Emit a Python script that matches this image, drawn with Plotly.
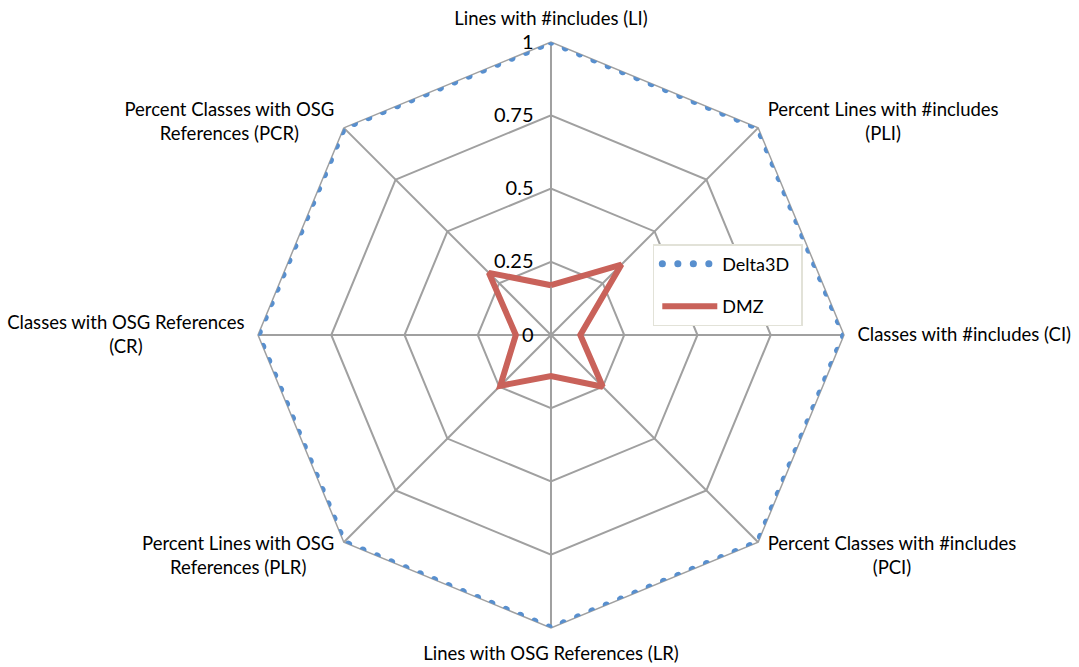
import plotly.graph_objects as go

categories = ["Lines with #includes (LI)", "Percent Lines with #includes<br>(PLI)",
              "Classes with #includes (CI)", "Percent Classes with #includes<br>(PCI)",
              "Lines with OSG References (LR)", "Percent Lines with OSG<br>References (PLR)",
              "Classes with OSG References<br>(CR)", "Percent Classes with OSG<br>References (PCR)"]
delta3d = [1, 1, 1, 1, 1, 1, 1, 1]
dmz = [0.17, 0.34, 0.10, 0.25, 0.14, 0.245, 0.12, 0.30]
radial_ticks = [0, 0.25, 0.5, 0.75, 1]
radial_labels = ["0", "0.25", "0.5", "0.75", "1"]

BLUE = "rgb(88,143,206)"
RED = "#C9625A"
GRID = "#A0A0A0"

fig = go.Figure()
fig.add_trace(go.Scatterpolar(
    r=delta3d + delta3d[:1], theta=categories + categories[:1], mode="lines",
    name="Delta3D", legendgroup="a", line=dict(color=BLUE, width=7, dash="dot")))
fig.add_trace(go.Scatterpolar(
    r=dmz + dmz[:1], theta=categories + categories[:1], mode="lines",
    name="DMZ", legendgroup="b", line=dict(color=RED, width=6)))

fig.update_layout(
    width=1079, height=667,
    margin=dict(l=0, r=0, t=0, b=0),
    paper_bgcolor="white", plot_bgcolor="white",
    font=dict(family="Lato, Open Sans, sans-serif", size=18, color="black"),
    polar=dict(
        domain=dict(x=[0.2391, 0.7822], y=[0.0585, 0.937]),
        gridshape="linear",
        bgcolor="white",
        angularaxis=dict(direction="clockwise", rotation=90, showline=True,
                         linecolor=GRID, linewidth=1.5, gridcolor=GRID, gridwidth=1.5,
                         ticks="outside", ticklen=9, tickcolor="rgba(0,0,0,0)",
                         layer="below traces", tickfont=dict(size=18.5)),
        radialaxis=dict(range=[0, 1], tickvals=radial_ticks, ticktext=radial_labels,
                        angle=90, tickangle=90, side="counterclockwise",
                        showline=False, gridcolor=GRID, gridwidth=1.5,
                        ticks="outside", ticklen=10, tickcolor="rgba(0,0,0,0)",
                        layer="below traces", tickfont=dict(size=20)),
    ),
    legend=dict(x=0.605, y=0.634, xanchor="left", yanchor="top",
                bordercolor="#E2E2D8", borderwidth=1.5, bgcolor="white",
                font=dict(size=18), tracegroupgap=16),
)

post = r"""
document.body.style.margin='0';
var gd = document.getElementById('{plot_id}');
function fixup(){
  var fl = gd._fullLayout;
  var dom = fl.polar.domain;
  var cx = fl.width*(dom.x[0]+dom.x[1])/2, cy = fl.height*(1-(dom.y[0]+dom.y[1])/2);
  gd.querySelectorAll('path.js-line').forEach(function(p){
    var s = (p.style.stroke || p.getAttribute('stroke') || '').replace(/\s/g,'');
    if (s === 'rgb(88,143,206)') {
      p.style.strokeLinecap='round'; p.style.strokeDasharray='0.1px,15.4px';
    }
  });
  gd.querySelectorAll('.polar text').forEach(function(t){
    if (t.dataset.newx && t.getAttribute('x') === t.dataset.newx) return;
    var lines = t.querySelectorAll('tspan.line');
    var r = t.getBoundingClientRect();
    var bx = (r.left+r.right)/2 - cx, by = (r.top+r.bottom)/2 - cy;
    var dx = 0, dy = 0;
    if (lines.length >= 2) {
      var anchor = t.getAttribute('text-anchor') || t.style.textAnchor || 'start';
      var w = t.getBBox().width;
      dx = anchor === 'start' ? w/2 : (anchor === 'end' ? -w/2 : 0);
      t.setAttribute('text-anchor','middle'); t.style.textAnchor='middle';
    }
    if (Math.abs(bx) > 120 && Math.abs(by) > 120) { dy = by > 0 ? -16 : 16; }
    lines.forEach(function(l){
      var lx = parseFloat(l.getAttribute('x'));
      if (!isNaN(lx)) l.setAttribute('x', lx + dx);
      var ly = parseFloat(l.getAttribute('y'));
      if (!isNaN(ly)) l.setAttribute('y', ly + dy);
      if (lines.length >= 2) { l.setAttribute('text-anchor','middle'); l.style.textAnchor='middle'; }
    });
    var x0 = parseFloat(t.getAttribute('x')) || 0;
    var y0 = parseFloat(t.getAttribute('y')) || 0;
    t.setAttribute('x', x0 + dx);
    t.setAttribute('y', y0 + dy);
    t.dataset.newx = t.getAttribute('x');
  });
  var leg = gd.querySelector('.legend');
  if (leg && !leg.dataset.fixed) {
    leg.querySelectorAll('[clip-path]').forEach(function(e){ e.removeAttribute('clip-path'); });
    leg.querySelectorAll('path.js-line').forEach(function(p){ p.setAttribute('d','M8,0h55'); });
    leg.querySelectorAll('text.legendtext').forEach(function(t){ t.setAttribute('x', 68); });
    leg.querySelectorAll('rect.legendtoggle').forEach(function(rr){
      rr.setAttribute('width', (parseFloat(rr.getAttribute('width'))||0) + 35); });
    var bg = leg.querySelector('rect.bg');
    if (bg) bg.setAttribute('width', parseFloat(bg.getAttribute('width')) + 35);
    leg.dataset.fixed = '1';
  }
}
fixup();
gd.on('plotly_afterplot', fixup);
setTimeout(fixup, 100);
"""
fig.write_html("out.html", post_script=post, config={"displayModeBar": False})
